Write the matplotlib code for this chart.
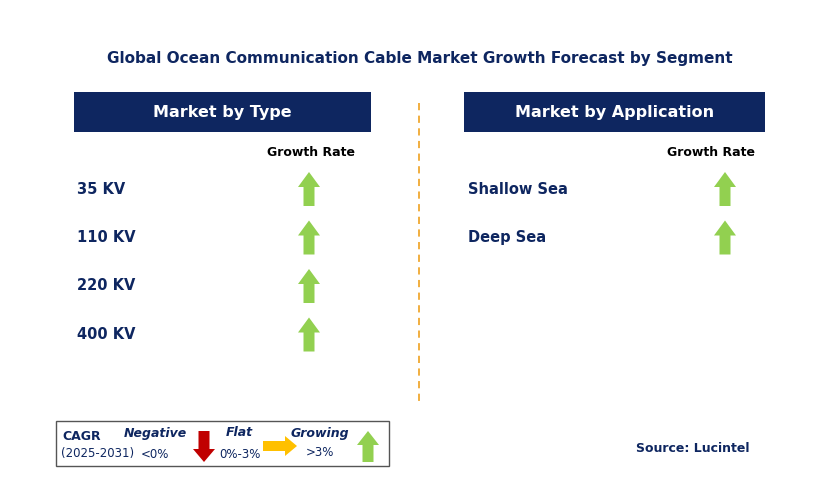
import matplotlib.pyplot as plt
from matplotlib.patches import Rectangle, Polygon

title = 'Global Ocean Communication Cable Market Growth Forecast by Segment'
type_labels = ['35 KV', '110 KV', '220 KV', '400 KV']
type_growth = ['up', 'up', 'up', 'up']
app_labels = ['Shallow Sea', 'Deep Sea']
app_growth = ['up', 'up']

NAVY = '#0E2660'
GREEN = '#92D050'
RED = '#C00000'
ORANGE = '#FFC000'

fig = plt.figure(figsize=(8.29, 4.93), dpi=100)
ax = fig.add_axes([0, 0, 1, 1])
ax.set_xlim(0, 829)
ax.set_ylim(493, 0)
ax.axis('off')


def up_arrow(cx, top, bottom, w=22, sw=11, head=15, color=GREEN):
    pts = [(cx, top), (cx + w / 2, top + head), (cx + sw / 2, top + head),
           (cx + sw / 2, bottom), (cx - sw / 2, bottom), (cx - sw / 2, top + head),
           (cx - w / 2, top + head)]
    ax.add_patch(Polygon(pts, closed=True, color=color, lw=0))


def down_arrow(cx, top, bottom, w=22, sw=11, head=15, color=RED):
    pts = [(cx, bottom), (cx + w / 2, bottom - head), (cx + sw / 2, bottom - head),
           (cx + sw / 2, top), (cx - sw / 2, top), (cx - sw / 2, bottom - head),
           (cx - w / 2, bottom - head)]
    ax.add_patch(Polygon(pts, closed=True, color=color, lw=0))


def right_arrow(left, right, cy, h=20, sh=10, head=12, color=ORANGE):
    pts = [(right, cy), (right - head, cy - h / 2), (right - head, cy - sh / 2),
           (left, cy - sh / 2), (left, cy + sh / 2), (right - head, cy + sh / 2),
           (right - head, cy + h / 2)]
    ax.add_patch(Polygon(pts, closed=True, color=color, lw=0))


def draw_status(s, cx, cy):
    if s == 'up':
        up_arrow(cx, cy - 17, cy + 17)
    elif s == 'down':
        down_arrow(cx, cy - 17, cy + 17)
    else:
        right_arrow(cx - 17, cx + 17, cy)


ax.text(420, 58, title, ha='center', va='center', fontsize=11, fontweight='bold', color=NAVY)

# panels
for x0, w, head in [(74, 297, 'Market by Type'), (464, 301, 'Market by Application')]:
    ax.add_patch(Rectangle((x0, 92), w, 40, color=NAVY, lw=0))
    ax.text(x0 + w / 2, 112, head, ha='center', va='center', fontsize=11.5,
            fontweight='bold', color='white')

ax.plot([419, 419], [103, 405], color='#F0A830', lw=1.3, ls=(0, (4, 3)))

ax.text(311, 152, 'Growth Rate', ha='center', va='center', fontsize=9, fontweight='bold')
ax.text(711, 152, 'Growth Rate', ha='center', va='center', fontsize=9, fontweight='bold')

for i, (lab, s) in enumerate(zip(type_labels, type_growth)):
    y = 189 + i * 48.5
    ax.text(77, y, lab, ha='left', va='center', fontsize=10.5, fontweight='bold', color=NAVY)
    draw_status(s, 309, y)

for i, (lab, s) in enumerate(zip(app_labels, app_growth)):
    y = 189 + i * 48.5
    ax.text(468, y, lab, ha='left', va='center', fontsize=10.5, fontweight='bold', color=NAVY)
    draw_status(s, 725, y)

# legend box
ax.add_patch(Rectangle((56, 421), 333, 45, fill=False, ec='#555555', lw=1))
ax.text(62, 436, 'CAGR', fontsize=9, fontweight='bold', color=NAVY, va='center')
ax.text(61, 454, '(2025-2031)', fontsize=8.5, color=NAVY, va='center')
ax.text(155, 433, 'Negative', fontsize=9, fontweight='bold', style='italic', color=NAVY, ha='center', va='center')
ax.text(155, 455, '<0%', fontsize=8.5, color=NAVY, ha='center', va='center')
down_arrow(204, 431, 462, w=22, sw=11, head=13)
ax.text(239, 433, 'Flat', fontsize=9, fontweight='bold', style='italic', color=NAVY, ha='center', va='center')
ax.text(240, 455, '0%-3%', fontsize=8.5, color=NAVY, ha='center', va='center')
right_arrow(263, 297, 446, h=20, sh=10, head=12)
ax.text(320, 433, 'Growing', fontsize=9, fontweight='bold', style='italic', color=NAVY, ha='center', va='center')
ax.text(320, 453, '>3%', fontsize=8.5, color=NAVY, ha='center', va='center')
up_arrow(368, 431, 462, w=22, sw=11, head=14)

ax.text(750, 449, 'Source: Lucintel', ha='right', va='center', fontsize=9, fontweight='bold', color=NAVY)

fig.savefig('out.png', dpi=100)
